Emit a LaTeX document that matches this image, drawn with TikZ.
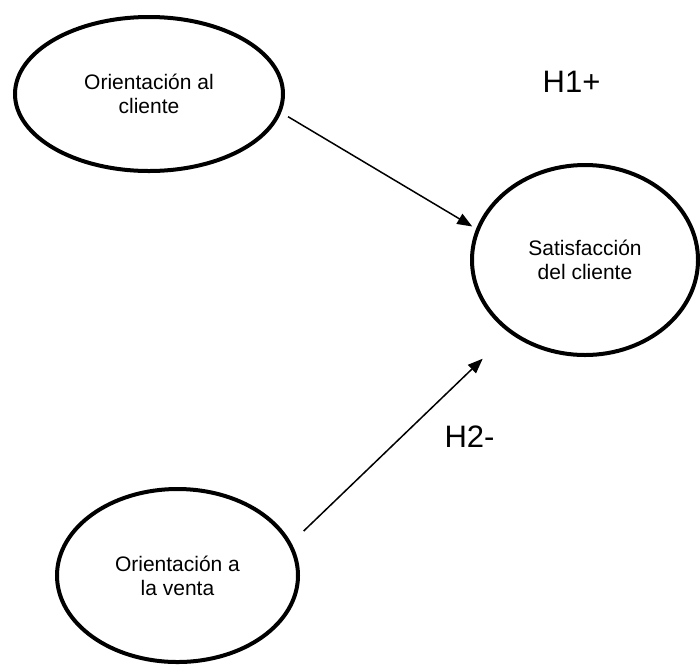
\documentclass[tikz,border=0pt]{standalone}
\usepackage{fontspec}
\setmainfont{Liberation Sans}
\usetikzlibrary{shapes.geometric,arrows.meta}
\begin{document}
\begin{tikzpicture}[x=1pt,y=-1pt,
  construct/.style={ellipse,draw=black,line width=4pt,inner sep=0pt,align=center,
    font=\fontsize{21}{24}\selectfont},
  hyparrow/.style={line width=1.5pt,-{Triangle[length=15pt,width=11.5pt]}},
  hyplabel/.style={inner sep=0pt,font=\fontsize{31}{36}\selectfont}]
\useasboundingbox (0,0) rectangle (700,665);
\node[construct,minimum width=268pt,minimum height=154pt] (oc) at (149,94) {Orientación al\\cliente};
\node[construct,minimum width=226pt,minimum height=190pt] (sc) at (585,260) {Satisfacción\\del cliente};
\node[construct,minimum width=241pt,minimum height=173pt] (ov) at (177.5,575.5) {Orientación a\\la venta};
\node[hyplabel] (h1) at (571.5,81.5) {H1+};
\node[hyplabel] (h2) at (469.5,436.5) {H2-};
\draw[hyparrow,shorten <=8pt,shorten >=4.5pt] (oc.-8.1) -- (sc.164.3);
\draw[hyparrow,shorten <=17pt,shorten >=37pt] (ov.16.6) -- (sc.-136.5);
\end{tikzpicture}
\end{document}
